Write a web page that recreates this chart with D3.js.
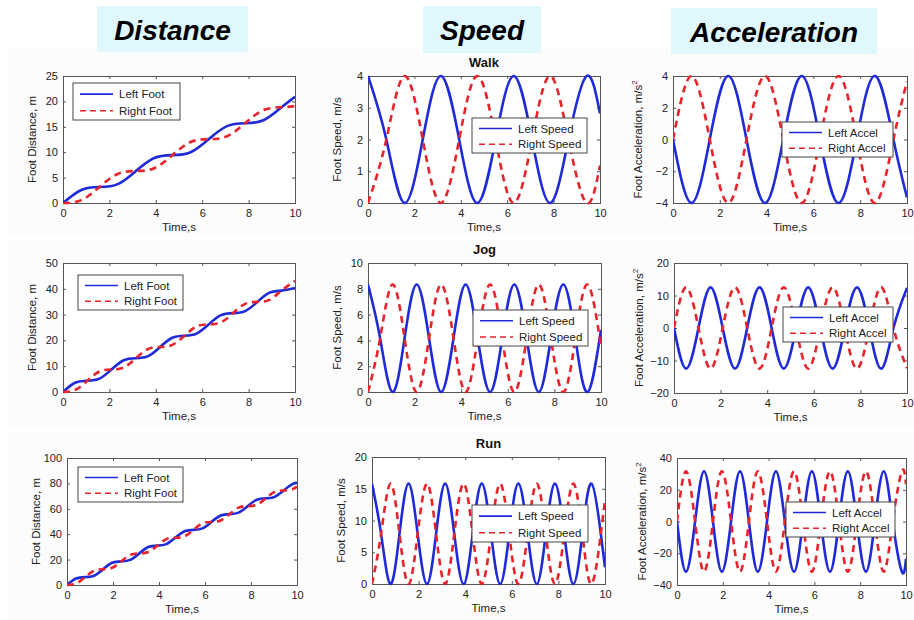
<!DOCTYPE html>
<html>
<head>
<meta charset="utf-8">
<script src="https://cdn.jsdelivr.net/npm/d3@7/dist/d3.min.js"></script>
<style>
  body { margin: 0; background: #fff; }
  text { font-family: "Liberation Sans", Arial, sans-serif; }
</style>
</head>
<body>
<div id="chart"></div>
<script>
// values (time in s)
var walkTime = [0, 0.79, 1.57, 2.36, 3.14, 3.93, 4.71, 5.50, 6.28, 7.07, 7.85, 8.64, 9.42, 10];
var walkDistLeft  = [0, 2.57, 3.14, 3.71, 6.28, 8.85, 9.42, 10.0, 12.57, 15.14, 15.71, 16.28, 18.85, 20.91];
var walkDistRight = [0, 0.57, 3.14, 5.71, 6.28, 6.85, 9.42, 12.0, 12.57, 13.14, 15.71, 18.28, 18.85, 19.09];
var walkSpeedLeft  = [4, 2, 0, 2, 4, 2, 0, 2, 4, 2, 0, 2, 4, 2.82];
var walkSpeedRight = [0, 2, 4, 2, 0, 2, 4, 2, 0, 2, 4, 2, 0, 1.18];
var walkAccLeft  = [0, -4, 0, 4, 0, -4, 0, 4, 0, -4, 0, 4, 0, -3.65];
var walkAccRight = [0, 4, 0, -4, 0, 4, 0, -4, 0, 4, 0, -4, 0, 3.65];

var jogTime = [0, 0.52, 1.05, 1.57, 2.09, 2.62, 3.14, 3.67, 4.19, 4.71, 5.24, 5.76, 6.28, 6.81, 7.33, 7.85, 8.38, 8.90, 9.42, 10];
var jogDistLeft  = [0, 3.57, 4.37, 5.16, 8.73, 12.31, 13.10, 13.89, 17.47, 21.04, 21.83, 22.63, 26.20, 29.77, 30.57, 31.36, 34.94, 38.51, 39.30, 40.33];
var jogDistRight = [0, 0.79, 4.37, 7.94, 8.73, 9.53, 13.10, 16.67, 17.47, 18.26, 21.83, 25.41, 26.20, 26.99, 30.57, 34.14, 34.94, 35.73, 39.30, 43.07];
var jogSpeedLeft  = [8.33, 4.17, 0, 4.17, 8.33, 4.17, 0, 4.17, 8.33, 4.17, 0, 4.17, 8.33, 4.17, 0, 4.17, 8.33, 4.17, 0, 4.81];
var jogSpeedRight = [0, 4.17, 8.33, 4.17, 0, 4.17, 8.33, 4.17, 0, 4.17, 8.33, 4.17, 0, 4.17, 8.33, 4.17, 0, 4.17, 8.33, 3.52];
var jogAccLeft  = [0, -12.5, 0, 12.5, 0, -12.5, 0, 12.5, 0, -12.5, 0, 12.5, 0, -12.5, 0, 12.5, 0, -12.5, 0, 12.35];
var jogAccRight = [0, 12.5, 0, -12.5, 0, 12.5, 0, -12.5, 0, 12.5, 0, -12.5, 0, 12.5, 0, -12.5, 0, 12.5, 0, -12.35];

var runTime = [0, 0.39, 0.79, 1.18, 1.57, 1.96, 2.36, 2.75, 3.14, 3.53, 3.93, 4.32, 4.71, 5.11, 5.50, 5.89, 6.28, 6.68, 7.07, 7.46, 7.85, 8.25, 8.64, 9.03, 9.42, 9.82, 10];
var runDistLeft  = [0, 5.08, 6.20, 7.33, 12.41, 17.49, 18.61, 19.74, 24.82, 29.90, 31.02, 32.15, 37.23, 42.31, 43.43, 44.55, 49.64, 54.72, 55.84, 56.96, 62.05, 67.13, 68.25, 69.37, 74.46, 79.54, 80.47];
var runDistRight = [0, 1.12, 6.20, 11.29, 12.41, 13.53, 18.61, 23.70, 24.82, 25.94, 31.02, 36.11, 37.23, 38.35, 43.43, 48.51, 49.64, 50.76, 55.84, 60.92, 62.05, 63.17, 68.25, 73.33, 74.46, 75.58, 77.53];
var runSpeedLeft  = [15.8, 7.9, 0, 7.9, 15.8, 7.9, 0, 7.9, 15.8, 7.9, 0, 7.9, 15.8, 7.9, 0, 7.9, 15.8, 7.9, 0, 7.9, 15.8, 7.9, 0, 7.9, 15.8, 7.9, 2.63];
var runSpeedRight = [0, 7.9, 15.8, 7.9, 0, 7.9, 15.8, 7.9, 0, 7.9, 15.8, 7.9, 0, 7.9, 15.8, 7.9, 0, 7.9, 15.8, 7.9, 0, 7.9, 15.8, 7.9, 0, 7.9, 13.17];
var runAccLeft  = [0, -31.6, 0, 31.6, 0, -31.6, 0, 31.6, 0, -31.6, 0, 31.6, 0, -31.6, 0, 31.6, 0, -31.6, 0, 31.6, 0, -31.6, 0, 31.6, 0, -31.6, -23.5];
var runAccRight = [0, 31.6, 0, -31.6, 0, 31.6, 0, -31.6, 0, 31.6, 0, -31.6, 0, 31.6, 0, -31.6, 0, 31.6, 0, -31.6, 0, 31.6, 0, -31.6, 0, 31.6, 23.5];

// tick labels
var timeTicks = [0, 2, 4, 6, 8, 10];
var walkDistTicks = [0, 5, 10, 15, 20, 25];
var jogDistTicks = [0, 10, 20, 30, 40, 50];
var runDistTicks = [0, 20, 40, 60, 80, 100];
var walkSpeedTicks = [0, 1, 2, 3, 4];
var jogSpeedTicks = [0, 2, 4, 6, 8, 10];
var runSpeedTicks = [0, 5, 10, 15, 20];
var walkAccTicks = [-4, -2, 0, 2, 4];
var jogAccTicks = [-20, -10, 0, 10, 20];
var runAccTicks = [-40, -20, 0, 20, 40];

var headers = ["Distance", "Speed", "Acceleration"];
var rowTitles = ["Walk", "Jog", "Run"];
var distNames = ["Left Foot", "Right Foot"];
var speedNames = ["Left Speed", "Right Speed"];
var accNames = ["Left Accel", "Right Accel"];

var width = 914, height = 620;
var svg = d3.select("#chart").append("svg")
    .attr("width", width)
    .attr("height", height);

// faint figure backgrounds
[[8, 48, 906, 188], [8, 240, 906, 186], [8, 432, 906, 188]].forEach(function (r) {
    svg.append("rect").attr("x", r[0]).attr("y", r[1]).attr("width", r[2]).attr("height", r[3])
        .attr("fill", "#fcfcfc");
});

// column headers
var headerBoxes = [[97, 6, 151, 46], [423, 6, 118, 47], [671, 8, 206, 46]];
headers.forEach(function (h, i) {
    var b = headerBoxes[i];
    svg.append("rect").attr("x", b[0]).attr("y", b[1]).attr("width", b[2]).attr("height", b[3])
        .attr("fill", "#dff7fd");
    svg.append("text").attr("x", b[0] + b[2] / 2).attr("y", b[1] + 34)
        .attr("text-anchor", "middle")
        .style("font-size", "28px").style("font-weight", "bold").style("font-style", "italic")
        .style("fill", "#000")
        .text(h);
});

// panel layout: [left, top, right, bottom], legend box [x, y, w, h]
var panels = [
    { box: [63, 76, 295, 203], leg: [73, 83, 107, 37], t: walkTime, l: walkDistLeft, r: walkDistRight, ticks: walkDistTicks, label: "Foot Distance, m", names: distNames },
    { box: [368, 76, 600, 203], leg: [472, 118, 115, 35], t: walkTime, l: walkSpeedLeft, r: walkSpeedRight, ticks: walkSpeedTicks, label: "Foot Speed, m/s", names: speedNames, title: rowTitles[0] },
    { box: [673, 76, 907, 203], leg: [782, 122, 111, 35], t: walkTime, l: walkAccLeft, r: walkAccRight, ticks: walkAccTicks, label: "acc", names: accNames },
    { box: [63, 263, 295, 392], leg: [78, 275, 105, 35], t: jogTime, l: jogDistLeft, r: jogDistRight, ticks: jogDistTicks, label: "Foot Distance, m", names: distNames },
    { box: [368, 263, 601, 392], leg: [473, 310, 115, 36], t: jogTime, l: jogSpeedLeft, r: jogSpeedRight, ticks: jogSpeedTicks, label: "Foot Speed, m/s", names: speedNames, title: rowTitles[1] },
    { box: [674, 263, 907, 393], leg: [783, 307, 110, 35], t: jogTime, l: jogAccLeft, r: jogAccRight, ticks: jogAccTicks, label: "acc", names: accNames },
    { box: [67, 458, 297, 585], leg: [78, 467, 105, 35], t: runTime, l: runDistLeft, r: runDistRight, ticks: runDistTicks, label: "Foot Distance, m", names: distNames },
    { box: [372, 457, 605, 584], leg: [472, 505, 116, 37], t: runTime, l: runSpeedLeft, r: runSpeedRight, ticks: runSpeedTicks, label: "Foot Speed, m/s", names: speedNames, title: rowTitles[2] },
    { box: [677, 458, 906, 585], leg: [786, 502, 109, 35], t: runTime, l: runAccLeft, r: runAccRight, ticks: runAccTicks, label: "acc", names: accNames }
];

var blue = "#1f2ad8", red = "#e8232b", axisColor = "#555";

panels.forEach(function (p, i) {
    var b = p.box;
    var x = d3.scaleLinear().domain([0, 10]).range([b[0], b[2]]);
    var y = d3.scaleLinear().domain(d3.extent(p.ticks)).range([b[3], b[1]]);
    var g = svg.append("g");

    g.append("rect").attr("x", b[0]).attr("y", b[1])
        .attr("width", b[2] - b[0]).attr("height", b[3] - b[1])
        .attr("fill", "#fff");

    var clipId = "clip" + i;
    g.append("clipPath").attr("id", clipId).append("rect")
        .attr("x", b[0]).attr("y", b[1] - 2)
        .attr("width", b[2] - b[0]).attr("height", b[3] - b[1] + 4);

    // axes, MATLAB style: ticks inside, box all round
    g.append("g").attr("transform", "translate(0," + b[3] + ")")
        .call(d3.axisBottom(x).tickValues(timeTicks).tickSize(-3).tickPadding(6).tickFormat(d3.format("d")));
    g.append("g").attr("transform", "translate(0," + b[1] + ")")
        .call(d3.axisTop(x).tickValues(timeTicks).tickSize(-3).tickFormat(""));
    g.append("g").attr("transform", "translate(" + b[0] + ",0)")
        .call(d3.axisLeft(y).tickValues(p.ticks).tickSize(-3).tickPadding(5)
            .tickFormat(function (d) { return d < 0 ? "\u2212" + (-d) : d; }));
    g.append("g").attr("transform", "translate(" + b[2] + ",0)")
        .call(d3.axisRight(y).tickValues(p.ticks).tickSize(-3).tickFormat(""));
    g.selectAll(".domain").attr("stroke", axisColor);
    g.selectAll(".tick line").attr("stroke", axisColor);
    g.selectAll(".tick text").style("font-size", "11px").style("fill", "#222")
        .style("font-family", "'Liberation Sans', Arial, sans-serif");

    var line = d3.line()
        .x(function (d) { return x(d[0]); })
        .y(function (d) { return y(d[1]); })
        .curve(d3.curveNatural);

    var plot = g.append("g").attr("clip-path", "url(#" + clipId + ")");
    plot.append("path").datum(d3.zip(p.t, p.l))
        .attr("d", line).attr("fill", "none")
        .attr("stroke", blue).attr("stroke-width", 2.6);
    plot.append("path").datum(d3.zip(p.t, p.r))
        .attr("d", line).attr("fill", "none")
        .attr("stroke", red).attr("stroke-width", 2.6)
        .attr("stroke-dasharray", "7,5");

    // axis labels
    g.append("text").attr("x", (b[0] + b[2]) / 2).attr("y", b[3] + 28)
        .attr("text-anchor", "middle").style("font-size", "11.5px").style("fill", "#222")
        .text("Time,s");
    var yl = g.append("text")
        .attr("transform", "translate(" + (b[0] - (p.label == "acc" ? 31 : 27)) + "," + ((b[1] + b[3]) / 2) + ") rotate(-90)")
        .attr("text-anchor", "middle").style("font-size", "11.5px").style("fill", "#222");
    if (p.label == "acc") {
        yl.append("tspan").text("Foot Acceleration, m/s");
        yl.append("tspan").attr("dy", "-5").style("font-size", "8px").text("2");
    } else {
        yl.text(p.label);
    }

    if (p.title) {
        g.append("text").attr("x", (b[0] + b[2]) / 2).attr("y", b[1] - 9)
            .attr("text-anchor", "middle").style("font-size", "13px").style("font-weight", "bold")
            .style("fill", "#111").text(p.title);
    }

    // legend
    var L = p.leg;
    var lg = g.append("g");
    lg.append("rect").attr("x", L[0]).attr("y", L[1]).attr("width", L[2]).attr("height", L[3])
        .attr("fill", "#fff").attr("stroke", "#444").attr("stroke-width", 1);
    [0, 1].forEach(function (k) {
        var ly = L[1] + L[3] * (k == 0 ? 0.3 : 0.75);
        lg.append("line").attr("x1", L[0] + 7).attr("x2", L[0] + 40)
            .attr("y1", ly).attr("y2", ly)
            .attr("stroke", k == 0 ? blue : red).attr("stroke-width", 1.6)
            .attr("stroke-dasharray", k == 0 ? null : "6,4");
        lg.append("text").attr("x", L[0] + 46).attr("y", ly + 4)
            .style("font-size", "11.5px").style("fill", "#222")
            .text(p.names[k]);
    });
});
</script>
</body>
</html>
